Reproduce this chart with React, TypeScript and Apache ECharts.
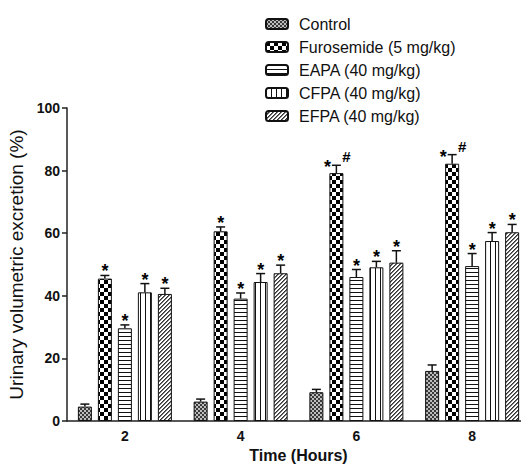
import React, { useEffect, useRef } from "react";
import * as echarts from "echarts";

const categories = ["2", "4", "6", "8"];
const seriesNames = [
  "Control",
  "Furosemide (5 mg/kg)",
  "EAPA (40 mg/kg)",
  "CFPA (40 mg/kg)",
  "EFPA (40 mg/kg)",
];
const controlValues = [4.6, 6.2, 9.2, 16.0];
const controlErrors = [0.8, 0.8, 0.9, 1.9];
const furosemideValues = [45.5, 60.6, 79.2, 82.2];
const furosemideErrors = [1.0, 1.4, 2.5, 2.9];
const eapaValues = [29.6, 39.1, 46.0, 49.5];
const eapaErrors = [1.1, 1.8, 2.4, 4.0];
const cfpaValues = [41.1, 44.4, 49.1, 57.5];
const cfpaErrors = [2.8, 2.7, 1.9, 2.7];
const efpaValues = [40.6, 47.2, 50.6, 60.3];
const efpaErrors = [1.8, 2.6, 3.8, 2.5];
const controlMarks = ["", "", "", ""];
const furosemideMarks = ["*", "*", "*#", "*#"];
const eapaMarks = ["*", "*", "*", "*"];
const cfpaMarks = ["*", "*", "*", "*"];
const efpaMarks = ["*", "*", "*", "*"];
const yMin = 0;
const yMax = 100;
const yInterval = 20;

const allValues = [controlValues, furosemideValues, eapaValues, cfpaValues, efpaValues];
const allErrors = [controlErrors, furosemideErrors, eapaErrors, cfpaErrors, efpaErrors];
const allMarks = [controlMarks, furosemideMarks, eapaMarks, cfpaMarks, efpaMarks];

const BAR_W = 14;
const BAR_GAP = 6;
const FONT = "'Liberation Sans', Arial, sans-serif";

function makeCanvas(w: number, h: number, draw: (ctx: CanvasRenderingContext2D) => void) {
  const c = document.createElement("canvas");
  c.width = w;
  c.height = h;
  const ctx = c.getContext("2d")!;
  ctx.fillStyle = "#fff";
  ctx.fillRect(0, 0, w, h);
  draw(ctx);
  return c;
}

function makePatterns() {
  const control = makeCanvas(4, 4, (ctx) => {
    ctx.fillStyle = "#3a3a3a";
    ctx.fillRect(0, 0, 2, 2);
    ctx.fillRect(2, 2, 2, 2);
    ctx.fillStyle = "#bdbdbd";
    ctx.fillRect(2, 0, 2, 2);
    ctx.fillRect(0, 2, 2, 2);
  });
  const furo = makeCanvas(8, 8, (ctx) => {
    ctx.fillStyle = "#000";
    ctx.fillRect(0, 0, 4, 4);
    ctx.fillRect(4, 4, 4, 4);
  });
  const horiz = makeCanvas(4, 4, (ctx) => {
    ctx.fillStyle = "#111";
    ctx.fillRect(0, 0, 4, 1);
  });
  const vert = makeCanvas(5, 5, (ctx) => {
    ctx.fillStyle = "#111";
    ctx.fillRect(0, 0, 1, 5);
  });
  const diag = makeCanvas(4, 4, (ctx) => {
    for (let i = 0; i < 4; i++) {
      ctx.fillStyle = "#333";
      ctx.fillRect(i, 3 - i, 1, 1);
      ctx.fillStyle = "#777";
      ctx.fillRect((i + 1) % 4, 3 - i, 1, 1);
    }
  });
  return [control, furo, horiz, vert, diag];
}

export default function App() {
  const ref = useRef<HTMLDivElement>(null);
  useEffect(() => {
    if (!ref.current) return;
    const chart = echarts.init(ref.current, undefined, { renderer: "svg" });
    const patterns = makePatterns();

    const barSeries = seriesNames.map((name, i) => ({
      name,
      type: "bar",
      data: allValues[i],
      barWidth: BAR_W,
      barGap: `${(BAR_GAP / BAR_W) * 100}%`,
      itemStyle: {
        color: { image: patterns[i], repeat: "repeat" },
        borderColor: "#111",
        borderWidth: 1,
      },
      z: 2,
    }));

    const errData: any[] = [];
    allValues.forEach((vals, s) => {
      vals.forEach((v, c) => {
        errData.push([c, s, v, allErrors[s][c], allMarks[s][c]]);
      });
    });

    const n = seriesNames.length;
    const errSeries = {
      type: "custom",
      z: 5,
      silent: true,
      data: errData,
      encode: { x: 0, y: 2 },
      renderItem: (params: any, api: any) => {
        const c = api.value(0);
        const s = api.value(1);
        const v = api.value(2);
        const e = api.value(3);
        const mark = errData[params.dataIndex][4] as string;
        const top = api.coord([c, v]);
        const errTop = api.coord([c, v + e]);
        const cx = top[0] + (s - (n - 1) / 2) * (BAR_W + BAR_GAP);
        const children: any[] = [
          {
            type: "line",
            shape: { x1: cx, y1: top[1], x2: cx, y2: errTop[1] },
            style: { stroke: "#111", lineWidth: 1.5 },
          },
          {
            type: "line",
            shape: { x1: cx - 4.5, y1: errTop[1], x2: cx + 4.5, y2: errTop[1] },
            style: { stroke: "#111", lineWidth: 1.5 },
          },
        ];
        if (mark === "*") {
          children.push({
            type: "text",
            x: cx,
            y: errTop[1] + 5,
            style: {
              text: "*",
              fill: "#000",
              font: `bold 18px ${FONT}`,
              align: "center",
              verticalAlign: "bottom",
            },
          });
        } else if (mark === "*#") {
          children.push({
            type: "text",
            x: cx - 9,
            y: errTop[1] + 11,
            style: {
              text: "*",
              fill: "#000",
              font: `bold 18px ${FONT}`,
              align: "center",
              verticalAlign: "bottom",
            },
          });
          children.push({
            type: "text",
            x: cx + 10,
            y: errTop[1] - 1,
            style: {
              text: "#",
              fill: "#000",
              font: `bold 15px ${FONT}`,
              align: "center",
              verticalAlign: "bottom",
            },
          });
        }
        return { type: "group", children };
      },
    };

    chart.setOption({
      animation: false,
      backgroundColor: "#fff",
      grid: { left: 67, right: -9, top: 108, bottom: 44, containLabel: false, outerBoundsMode: "none" },
      legend: {
        orient: "vertical",
        left: 260,
        top: 10,
        itemWidth: 22,
        itemHeight: 10,
        itemGap: 5,
        data: seriesNames,
        textStyle: {
          fontFamily: FONT,
          fontSize: 16,
          color: "#111",
          lineHeight: 18,
          padding: [0, 0, 0, 6],
        },
      },
      xAxis: {
        type: "category",
        data: categories,
        name: "Time (Hours)",
        nameLocation: "middle",
        nameGap: 26,
        nameTextStyle: { fontFamily: FONT, fontSize: 16, fontWeight: "bold", color: "#111" },
        axisLine: { lineStyle: { color: "#222", width: 1.5 } },
        axisTick: { alignWithLabel: true, length: 5, lineStyle: { color: "#222", width: 1.5 } },
        axisLabel: { fontFamily: FONT, fontSize: 14, fontWeight: "bold", color: "#111", margin: 8 },
      },
      yAxis: {
        type: "value",
        min: yMin,
        max: yMax,
        interval: yInterval,
        name: "Urinary volumetric excretion (%)",
        nameLocation: "middle",
        nameGap: 31,
        nameTextStyle: { fontFamily: FONT, fontSize: 19, color: "#111" },
        axisLine: { show: true, lineStyle: { color: "#222", width: 1.5 } },
        axisTick: { show: true, length: 5, lineStyle: { color: "#222", width: 1.5 } },
        axisLabel: { fontFamily: FONT, fontSize: 14, fontWeight: "bold", color: "#111", margin: 7 },
        splitLine: { show: false },
      },
      series: [...barSeries, errSeries],
    });
    return () => chart.dispose();
  }, []);
  return <div ref={ref} style={{ width: 521, height: 465, position: "absolute", left: 0, top: 0 }} />;
}
